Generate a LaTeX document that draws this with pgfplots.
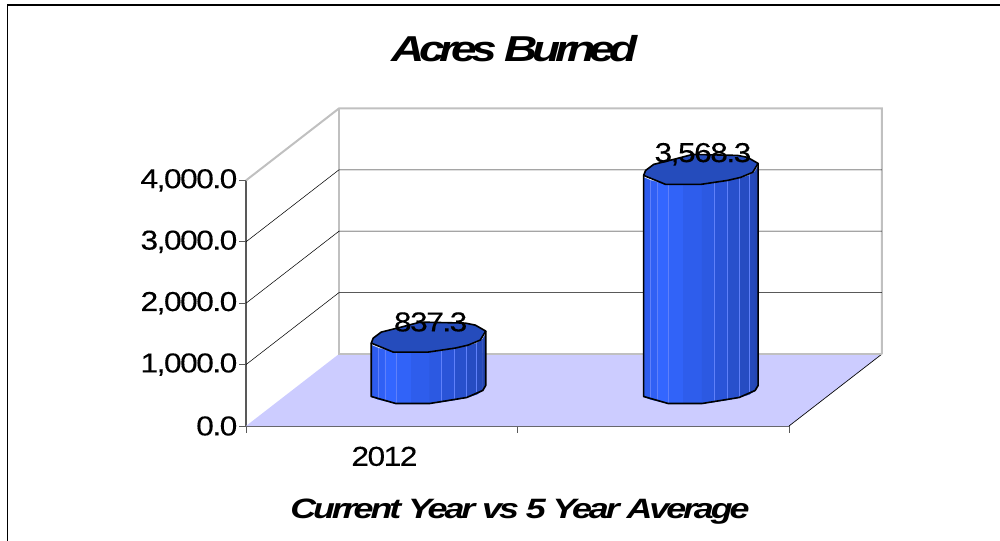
\documentclass[border=0pt]{standalone}
\usepackage{fontspec}
\usepackage{pgfplots}
\usepackage{pgfplotstable}
\pgfplotsset{compat=1.18}
\setmainfont{Liberation Sans}
\newfontfamily\ticksf[FakeStretch=1.16,LetterSpace=-5.5,FakeBold=0.25]{Liberation Sans}
\newfontfamily\titlef[FakeStretch=1.28,LetterSpace=-15.5]{Liberation Sans}
\newfontfamily\xtitlef[FakeStretch=1.28,LetterSpace=-11]{Liberation Sans}
\definecolor{floorc}{HTML}{CCCCFF}
\definecolor{wallc}{HTML}{C0C0C0}
\definecolor{topc}{HTML}{254CBC}
\definecolor{linec}{HTML}{5F80FA}
\def\xpx{0.0036832}
\def\ypx{16.287}
\def\base{366.5}
\pgfplotstableread{
dx dy
-57 -9
-35 0
0 0
27 -4
40 -7
52 -12
57.5 -21
47 -27
37 -29
-8 -30
-27 -25
-47 -20
-55 -14
}\toptable
\pgfplotstableread{
dx dy h
-57 -9 1
-57 -7 0
-32.5 0 0
1.5 0 0
38.5 -6 0
54.5 -13 0
57.5 -18 0
57.5 -21 1
}\lowtable
\newcommand{\edgeline}[4]{%
  \pgfmathsetmacro\xa{#1+#3*\xpx}%
  \pgfmathsetmacro\ya{\base-(#4)*\ypx}\pgfmathsetmacro\yd{\base+#2-(#4)*\ypx}%
  \edef\temp{\noexpand\addplot[linec,line width=0.35pt,forget plot] coordinates {(\xa,\ya)(\xa,\yd)};}\temp}
\definecolor{s1}{HTML}{2E5CEE}\definecolor{s2}{HTML}{3060F4}\definecolor{s3}{HTML}{3366FF}
\definecolor{s4}{HTML}{3163F8}\definecolor{s5}{HTML}{2E5DEC}\definecolor{s6}{HTML}{2C59E2}
\definecolor{s7}{HTML}{2A54D8}\definecolor{s8}{HTML}{2850CC}\definecolor{s9}{HTML}{264CC2}
\definecolor{s10}{HTML}{2549BA}\definecolor{s11}{HTML}{2446B2}
\newcommand{\strip}[7]{%
  \pgfmathsetmacro\xa{#1+#3*\xpx}\pgfmathsetmacro\xb{#1+#5*\xpx}%
  \pgfmathsetmacro\ya{\base-(#4)*\ypx}\pgfmathsetmacro\yb{\base-(#6)*\ypx}%
  \pgfmathsetmacro\yc{\base+#2-(#6)*\ypx}\pgfmathsetmacro\yd{\base+#2-(#4)*\ypx}%
  \edef\temp{\noexpand\addplot[fill=#7,draw=#7,line width=0.2pt,forget plot] coordinates {(\xa,\ya)(\xb,\yb)(\xb,\yc)(\xa,\yd)} -- cycle;}\temp}
\newcommand{\cyl}[2]{%
  \strip{#1}{#2}{-57}{-7}{-50}{-4}{s1}%
  \strip{#1}{#2}{-50}{-4}{-43.5}{-2.5}{s2}%
  \strip{#1}{#2}{-43.5}{-2.5}{-32.5}{0}{s3}%
  \strip{#1}{#2}{-32.5}{0}{-17.5}{0}{s4}%
  \strip{#1}{#2}{-17.5}{0}{1.5}{0}{s5}%
  \strip{#1}{#2}{1.5}{0}{13.5}{-1.5}{s6}%
  \strip{#1}{#2}{13.5}{-1.5}{26.5}{-3.5}{s7}%
  \strip{#1}{#2}{26.5}{-3.5}{38.5}{-6}{s8}%
  \strip{#1}{#2}{38.5}{-6}{48.5}{-9}{s9}%
  \strip{#1}{#2}{48.5}{-9}{54.5}{-13}{s10}%
  \strip{#1}{#2}{54.5}{-13}{57.5}{-18}{s11}%
  \edgeline{#1}{#2}{-50}{-4}\edgeline{#1}{#2}{-43.5}{-2.5}\edgeline{#1}{#2}{-32.5}{0}%
  \edgeline{#1}{#2}{13.5}{-1.5}\edgeline{#1}{#2}{26.5}{-3.5}\edgeline{#1}{#2}{38.5}{-6}\edgeline{#1}{#2}{48.5}{-9}%
  \addplot[fill=topc,draw=black,line width=1.2pt,line join=round,forget plot]
    table[x expr=#1+\thisrow{dx}*\xpx, y expr=\base+#2-\thisrow{dy}*\ypx] {\toptable} -- cycle;
  \addplot[draw=black,line width=1.2pt,line join=round,forget plot]
    table[x expr=#1+\thisrow{dx}*\xpx, y expr=\base+\thisrow{h}*#2-\thisrow{dy}*\ypx] {\lowtable};
}
\begin{document}
\begin{tikzpicture}
\useasboundingbox (0,0) rectangle (750pt,405pt);
\begin{axis}[
  at={(184.5pt,85.5pt)}, anchor=south west,
  scale only axis, width=407.25pt, height=184.2pt,
  xmin=0, xmax=2, ymin=0, ymax=4000, clip=false,
  axis lines=left, axis line style={-,draw=black!65,line width=0.8pt},
  /pgf/number format/assume math mode=true,
  xtick={0,1,2}, xticklabels={},
  extra x ticks={0.5}, extra x tick labels={2012},
  extra x tick style={tick style={draw=none},
    ticklabel style={font=\ticksf\fontsize{20.5pt}{22pt}\selectfont,yshift=-7pt,xshift=2pt}},
  ytick={0,1000,2000,3000,4000},
  yticklabel style={font=\ticksf\fontsize{20.5pt}{22pt}\selectfont,/pgf/number format/fixed,
    /pgf/number format/fixed zerofill,/pgf/number format/precision=1,/pgf/number format/1000 sep={,},xshift=2pt},
  scaled y ticks=false,
  tick style={draw=black!65,line width=0.6pt},
  tick align=outside, major tick length=5pt,
  xtick pos=bottom, ytick pos=left,
]
% floor
\addplot[fill=floorc,draw=none,forget plot] coordinates {(0,0)(2,0)(2.3425,1172.6)(0.3425,1172.6)} -- cycle;
\addplot[black,line width=0.5pt,forget plot] coordinates {(2,0)(2.3425,1172.6)};
% walls
\addplot[wallc,line width=1.5pt,forget plot] coordinates {(0,4000)(0.3425,5172.6)(2.3425,5172.6)(2.3425,1172.6)};
\addplot[wallc,line width=1.5pt,forget plot] coordinates {(0.3425,5172.6)(0.3425,1172.6)(2.3425,1172.6)};
% gridlines
\addplot[black,line width=0.4pt,forget plot] coordinates {(0,1000)(0.3425,2172.6)(2.3425,2172.6)};
\addplot[black,line width=0.4pt,forget plot] coordinates {(0,2000)(0.3425,3172.6)(2.3425,3172.6)};
\addplot[black,line width=0.4pt,forget plot] coordinates {(0,3000)(0.3425,4172.6)(2.3425,4172.6)};
% cylinders
\cyl{0.6712}{837.3}
\cyl{1.6745}{3568.3}
% data labels
\addplot[draw=none,mark=none,forget plot,
  point meta=explicit,
  nodes near coords={\pgfmathprintnumber[fixed,fixed zerofill,precision=1,1000 sep={,},assume math mode=true]{\pgfplotspointmeta}},
  nodes near coords style={anchor=center,yshift=12.5pt,inner sep=0pt,text=black,font=\ticksf\fontsize{20.5pt}{22pt}\selectfont}]
  table[x=x,y expr=\thisrow{value}+586,meta=value] {
  x value
  0.68 837.3
  1.683 3568.3
  };
\node[font=\titlef\bfseries\itshape\fontsize{27pt}{29pt}\selectfont,text=black,inner sep=0pt]
  at (axis cs:{(515-246)*\xpx},{(426-49)*\ypx}) {Acres Burned};
\node[font=\xtitlef\bfseries\itshape\fontsize{21pt}{23pt}\selectfont,text=black,inner sep=0pt]
  at (axis cs:{(520-246)*\xpx},{(426-512)*\ypx}) {Current Year vs 5 Year Average};
\end{axis}
\draw[black,line width=1pt] (5.4pt,-1pt) -- (5.4pt,401.2pt) -- (751pt,401.2pt);
\end{tikzpicture}
\end{document}
